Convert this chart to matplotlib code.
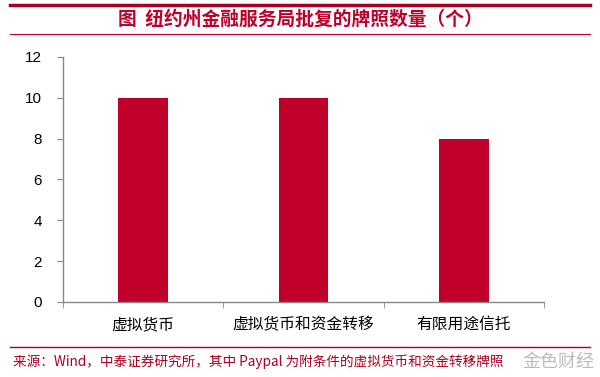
import matplotlib
matplotlib.use("Agg")
import matplotlib.pyplot as plt
from matplotlib.lines import Line2D

plt.rcParams['font.family'] = ['Noto Sans CJK SC', 'DejaVu Sans']

categories = ["虚拟货币", "虚拟货币和资金转移", "有限用途信托"]
values = [10, 10, 8]
yticks = [0, 2, 4, 6, 8, 10, 12]
title = "图  纽约州金融服务局批复的牌照数量（个）"
source = "来源：Wind，中泰证券研究所，其中 Paypal 为附条件的虚拟货币和资金转移牌照"

fig = plt.figure(figsize=(6, 3.77), dpi=100)
ax = fig.add_axes([0.105, 0.199, 0.802, 0.650])

x = list(range(len(categories)))
ax.bar(x, values, width=0.31, color="#C0002A")
ax.set_xlim(-0.5, len(categories) - 0.5)
ax.set_ylim(0, 12)
ax.set_yticks(yticks)
ax.set_yticklabels([str(v) for v in yticks], family=['Liberation Sans', 'DejaVu Sans'], fontsize=11)
ax.set_xticks(x)
ax.set_xticklabels(categories, fontsize=11.3)
ax.tick_params(axis='x', length=0, pad=10)
ax.tick_params(axis='y', length=4, color="#888888", direction='out', pad=11)
ax.set_xticks([-0.5, 0.5, 1.5, 2.5], minor=True)
ax.tick_params(axis='x', which='minor', length=4, color="#888888", direction='out')
for s in ['top', 'right']:
    ax.spines[s].set_visible(False)
for s in ['left', 'bottom']:
    ax.spines[s].set_color("#888888")
    ax.spines[s].set_linewidth(1.0)

# decorative lines
fig.add_artist(Line2D([0.017, 0.983], [1 - 5/377, 1 - 5/377], color="#A50021", linewidth=2.5))
fig.add_artist(Line2D([0.017, 0.983], [1 - 34/377, 1 - 34/377], color="#C0002A", linewidth=0.8))
fig.add_artist(Line2D([0.017, 0.983], [1 - 347/377, 1 - 347/377], color="#A50021", linewidth=1.0))

fig.text(0.5, 1 - 19/377, title, ha='center', va='center', fontsize=13.5,
         fontweight='bold', color="#C0002A")
fig.text(0.022, 1 - 362/377, source, ha='left', va='center', fontsize=9.8,
         color="#B00020", family=['Noto Sans CJK SC', 'DejaVu Sans'])
fig.text(0.99, 1 - 362/377, "金色财经", ha='right', va='center', fontsize=13,
         color="#BBBBBB")

fig.savefig("out.png", dpi=100)
